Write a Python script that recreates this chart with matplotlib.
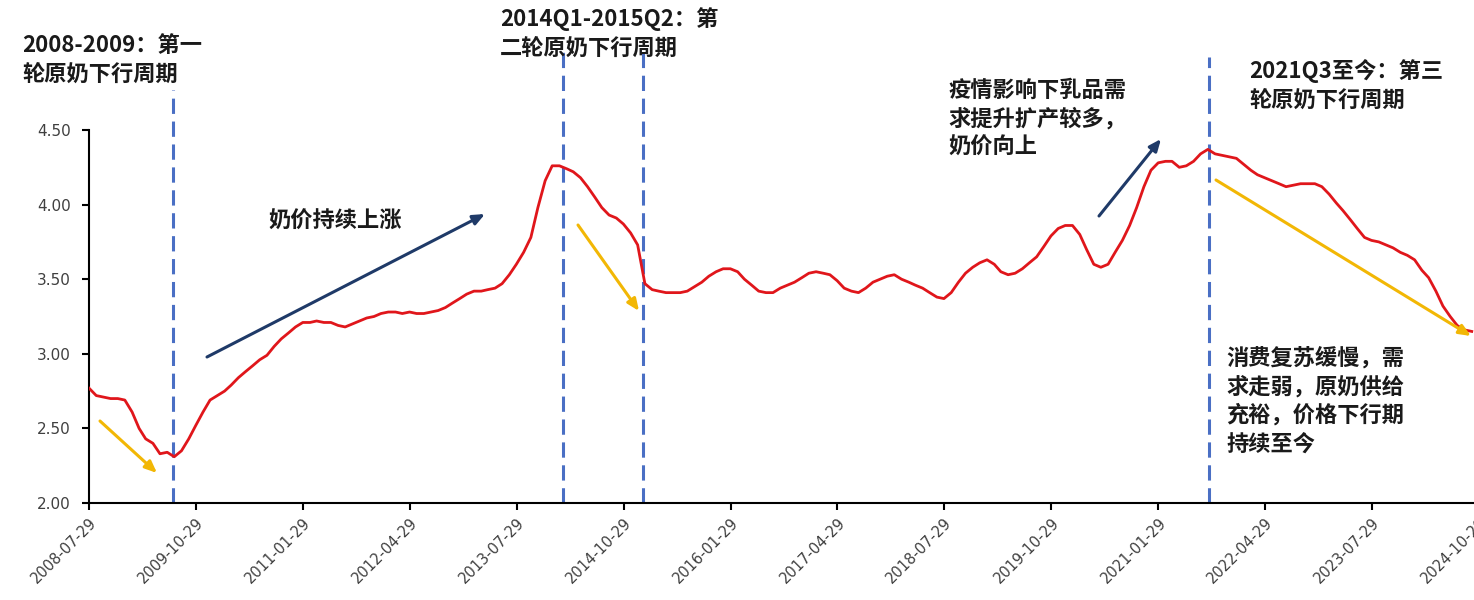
import matplotlib
matplotlib.use("Agg")
import matplotlib.pyplot as plt
import pandas as pd

plt.rcParams['font.family'] = ['Noto Sans CJK SC', 'DejaVu Sans']

# monthly raw milk price (yuan/kg), starting 2008-07-29
start = "2008-07-29"
price = [2.77, 2.72, 2.71, 2.70, 2.70, 2.69, 2.61, 2.50, 2.43, 2.40,
         2.33, 2.34, 2.31, 2.35, 2.43, 2.52, 2.61, 2.69, 2.72, 2.75,
         2.79, 2.84, 2.88, 2.92, 2.96, 2.99, 3.05, 3.10, 3.14, 3.18,
         3.21, 3.21, 3.22, 3.21, 3.21, 3.19, 3.18, 3.20, 3.22, 3.24,
         3.25, 3.27, 3.28, 3.28, 3.27, 3.28, 3.27, 3.27, 3.28, 3.29,
         3.31, 3.34, 3.37, 3.40, 3.42, 3.42, 3.43, 3.44, 3.47, 3.53,
         3.60, 3.68, 3.78, 3.98, 4.16, 4.26, 4.26, 4.24, 4.22, 4.18,
         4.12, 4.05, 3.98, 3.93, 3.91, 3.87, 3.81, 3.73, 3.47, 3.43,
         3.42, 3.41, 3.41, 3.41, 3.42, 3.45, 3.48, 3.52, 3.55, 3.57,
         3.57, 3.55, 3.50, 3.46, 3.42, 3.41, 3.41, 3.44, 3.46, 3.48,
         3.51, 3.54, 3.55, 3.54, 3.53, 3.49, 3.44, 3.42, 3.41, 3.44,
         3.48, 3.50, 3.52, 3.53, 3.50, 3.48, 3.46, 3.44, 3.41, 3.38,
         3.37, 3.41, 3.48, 3.54, 3.58, 3.61, 3.63, 3.60, 3.55, 3.53,
         3.54, 3.57, 3.61, 3.65, 3.72, 3.79, 3.84, 3.86, 3.86, 3.80,
         3.70, 3.60, 3.58, 3.60, 3.68, 3.76, 3.86, 3.98, 4.12, 4.23,
         4.28, 4.29, 4.29, 4.25, 4.26, 4.29, 4.34, 4.37, 4.34, 4.33,
         4.32, 4.31, 4.27, 4.23, 4.20, 4.18, 4.16, 4.14, 4.12, 4.13,
         4.14, 4.14, 4.14, 4.12, 4.07, 4.01, 3.96, 3.90, 3.84, 3.78,
         3.76, 3.75, 3.73, 3.71, 3.68, 3.66, 3.63, 3.56, 3.51, 3.42,
         3.32, 3.25, 3.19, 3.16, 3.15]
dates = pd.date_range(start, periods=len(price), freq=pd.DateOffset(months=1))

tick_labels = ["2008-07-29", "2009-10-29", "2011-01-29", "2012-04-29",
               "2013-07-29", "2014-10-29", "2016-01-29", "2017-04-29",
               "2018-07-29", "2019-10-29", "2021-01-29", "2022-04-29",
               "2023-07-29", "2024-10-29"]
y_ticks = [2.0, 2.5, 3.0, 3.5, 4.0, 4.5]

# cycle boundaries (dashed lines) and how high each one reaches
cycle_dates = ["2009-07-23", "2014-02-13", "2015-01-19", "2021-08-31"]
cycle_tops = [4.77, 5.05, 5.05, 4.99]

W, H = 1474, 600
fig = plt.figure(figsize=(W / 100, H / 100), dpi=100)
ax = fig.add_axes([89 / W, 1 - 503 / H, (1479 - 89) / W, (503 - 130) / H])

ax.plot(dates, price, color="#E0161B", lw=2.0, zorder=3)

for d, top in zip(cycle_dates, cycle_tops):
    ax.plot([pd.Timestamp(d)] * 2, [2.0, top], color="#4A6FC4", lw=2.2,
            ls=(0, (5, 2.5)), clip_on=False, zorder=2)

ax.set_xlim(pd.Timestamp("2008-07-29"), pd.Timestamp("2024-10-29"))
ax.set_ylim(2.0, 4.5)
ax.set_xticks([pd.Timestamp(t) for t in tick_labels])
ax.set_xticklabels(tick_labels, rotation=45, ha="right", rotation_mode="anchor",
                   fontsize=10.5, color="#404040", family="DejaVu Sans")
ax.set_yticks(y_ticks)
ax.set_yticklabels(["%.2f" % v for v in y_ticks], fontsize=11, color="#404040",
                   family="DejaVu Sans")
ax.tick_params(axis="x", length=5, width=1.5, direction="out", pad=4)
ax.tick_params(axis="y", length=5, width=1.5, direction="out", pad=8)
for s in ["top", "right"]:
    ax.spines[s].set_visible(False)
for s in ["left", "bottom"]:
    ax.spines[s].set_linewidth(1.5)


def px(x, y):
    return (x / W, 1 - y / H)


texts = [
    (22, 47, "2008-2009：第一\n轮原奶下行周期"),
    (500, 20, "2014Q1-2015Q2：第\n二轮原奶下行周期"),
    (948, 92, "疫情影响下乳品需\n求提升扩产较多，\n奶价向上"),
    (1249, 72, "2021Q3至今：第三\n轮原奶下行周期"),
    (268, 223, "奶价持续上涨"),
    (1226, 360, "消费复苏缓慢，需\n求走弱，原奶供给\n充裕，价格下行期\n持续至今"),
]
for x, y, t in texts:
    fig.text(*px(x, y - 13), t, fontsize=16, fontweight="bold", color="#1A1A1A",
             ha="left", va="top", linespacing=1.3)

arrows = [
    ((100, 421), (157, 473), "#F2B705"),
    ((578, 225), (639, 311), "#F2B705"),
    ((1216, 180), (1471, 336), "#F2B705"),
    ((207, 357), (485, 214), "#1F3A68"),
    ((1099, 216), (1161, 139), "#1F3A68"),
]
for (x0, y0), (x1, y1), c in arrows:
    ax.annotate("", xy=px(x1, y1), xytext=px(x0, y0), xycoords="figure fraction",
                textcoords="figure fraction",
                arrowprops=dict(arrowstyle="-|>,head_length=0.7,head_width=0.3",
                                color=c, lw=2.2, shrinkA=0, shrinkB=0))

fig.savefig("out.png", dpi=100)
